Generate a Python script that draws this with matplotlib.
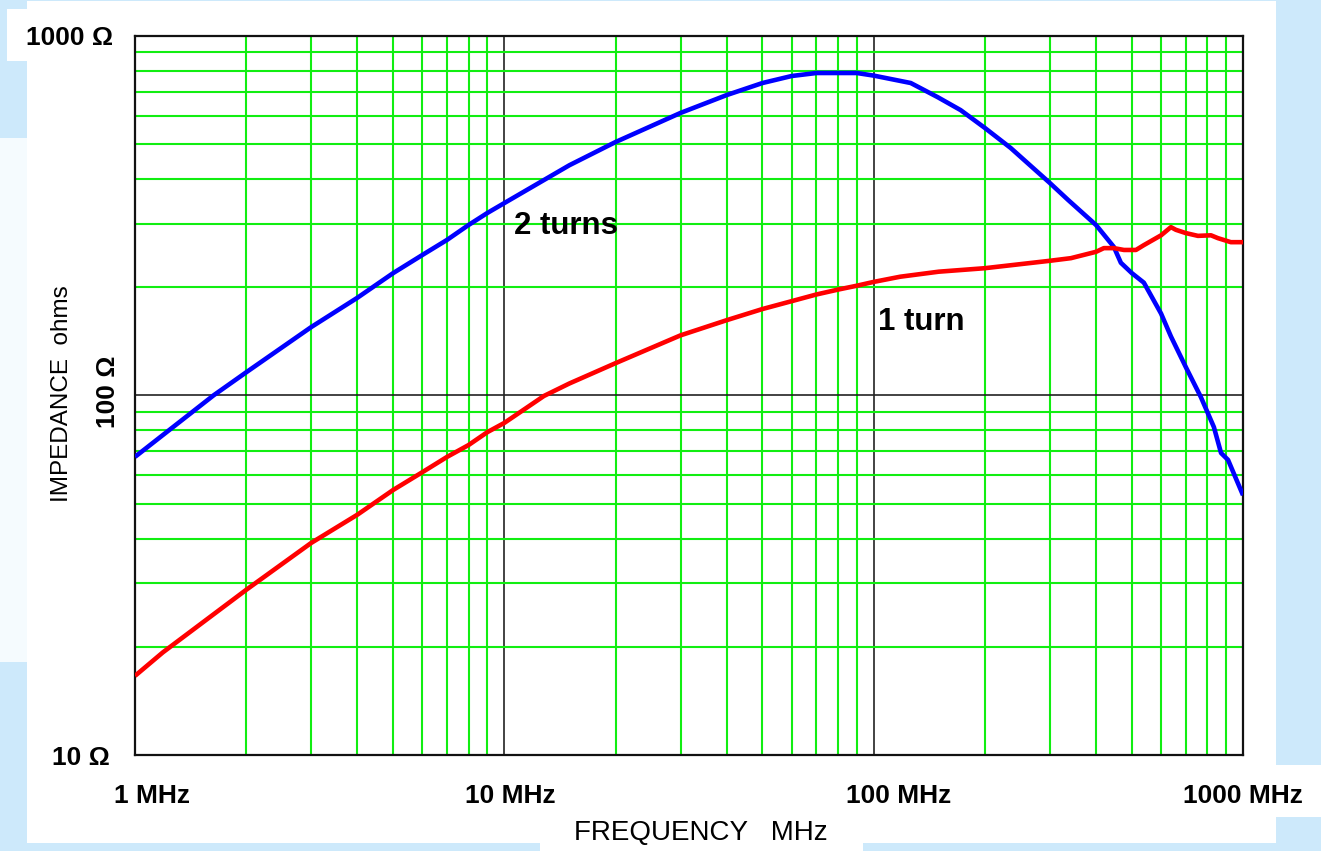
import numpy as np
import matplotlib
matplotlib.use("Agg")
import matplotlib.pyplot as plt
from matplotlib.patches import Rectangle
from matplotlib.ticker import LogLocator, NullFormatter

plt.rcParams['font.family'] = ['Liberation Sans', 'DejaVu Sans']

# impedance curves (MHz, ohms)
freq_2turns = [1, 1.63, 2, 3, 4, 5, 6, 7, 8, 9, 10, 15, 20, 30, 40, 50, 60, 70,
               80, 90, 100, 126, 149, 172, 200, 235, 300, 336, 400, 447, 467, 500, 539, 600,
               638, 700, 769, 834, 872, 911, 1000]
z_2turns = [67.5, 100, 116, 155, 187, 219, 246, 271, 298, 322, 343, 437, 507, 611,
            685, 740, 774, 789, 789, 789, 776, 740, 676, 622, 555, 488, 390, 350, 298, 259,
            234, 219, 206, 169, 146, 120, 99, 81.7, 69.2, 66.2, 52.8]

freq_1turn = [1, 1.19, 2, 3, 4, 5, 6, 7, 8, 9, 10, 12.8, 15, 20, 30, 40, 50, 60, 70, 80, 90,
              100, 118, 150, 200, 300, 342, 400, 420, 447, 476, 513, 539, 600, 638, 658, 700,
              755, 819, 855, 927, 1000]
z_1turn = [16.6, 19.3, 28.8, 38.9, 46.6, 54.6, 61.2, 67.5, 72.8, 79.1, 83.9, 99.7, 108, 123,
           147, 162, 174, 183, 191, 197, 202, 207, 214, 221, 226, 237, 241, 251, 257, 257,
           254, 254, 262, 279, 294, 289, 283, 278, 279, 274, 267, 267]

x_ticks = [1, 10, 100, 1000]
x_tick_labels = ['1 MHz', '10 MHz', '100 MHz', '1000 MHz']

W, H = 1321, 851
fig = plt.figure(figsize=(W / 100, H / 100), dpi=100, facecolor='#cde9fb')


def bg_rect(x0, y0, x1, y1, color):
    fig.add_artist(Rectangle((x0 / W, 1 - y1 / H), (x1 - x0) / W, (y1 - y0) / H,
                             transform=fig.transFigure, facecolor=color,
                             edgecolor='none', zorder=-10))


bg_rect(27, 1, 1276, 843, 'white')
bg_rect(0, 138, 27, 662, '#f5fbfe')
bg_rect(7, 9, 27, 61, 'white')
bg_rect(1276, 765, 1321, 817, 'white')
bg_rect(540, 843, 863, 851, 'white')

ax = fig.add_axes([135 / W, 1 - 755 / H, 1108 / W, 719 / H])
ax.set_facecolor('white')
ax.set_xscale('log')
ax.set_yscale('log')
ax.set_xlim(1, 1000)
ax.set_ylim(10, 1000)

ax.xaxis.set_major_locator(LogLocator(base=10, numticks=10))
ax.yaxis.set_major_locator(LogLocator(base=10, numticks=10))
ax.xaxis.set_minor_locator(LogLocator(base=10, subs=np.arange(2, 10), numticks=20))
ax.yaxis.set_minor_locator(LogLocator(base=10, subs=np.arange(2, 10), numticks=20))
ax.xaxis.set_major_formatter(NullFormatter())
ax.yaxis.set_major_formatter(NullFormatter())
ax.xaxis.set_minor_formatter(NullFormatter())
ax.yaxis.set_minor_formatter(NullFormatter())
ax.tick_params(which='both', length=0)
ax.grid(which='minor', color='#11ee11', lw=1.5)
ax.grid(which='major', color='#222222', lw=1.2)
ax.set_axisbelow(True)
for s in ax.spines.values():
    s.set_color('#111111')
    s.set_linewidth(1.6)

ax.plot(freq_2turns, z_2turns, color='#0000ff', lw=3.3, solid_capstyle='butt', zorder=3)
ax.plot(freq_1turn, z_1turn, color='#ff0000', lw=3.3, solid_capstyle='butt', zorder=3)

ax.text(10.6, 281, '2 turns', fontsize=22.5, fontweight='bold', va='baseline', ha='left')
ax.text(103, 152, '1 turn', fontsize=22.5, fontweight='bold', va='baseline', ha='left')

# tick labels placed like the original
xt = ax.get_xaxis_transform()
for x, lab, dx in zip(x_ticks, x_tick_labels, [1.11, 1.04, 1.17, 1.0]):
    ax.text(x * dx, -0.067, lab, transform=xt, fontsize=19, fontweight='bold',
            ha='center', va='baseline')

ax.text(-0.0199, 0.9875, '1000 Ω', transform=ax.transAxes, fontsize=19,
        fontweight='bold', ha='right', va='baseline')
ax.text(-0.0244, 0.505, '100 Ω', transform=ax.transAxes, fontsize=19,
        fontweight='bold', ha='center', va='center', rotation=90)
ax.text(-0.0226, -0.0139, '10 Ω', transform=ax.transAxes, fontsize=19,
        fontweight='bold', ha='right', va='baseline')

ax.text(0.511, -0.118, 'FREQUENCY   MHz', transform=ax.transAxes, fontsize=20,
        ha='center', va='baseline')
ax.text(-0.0659, 0.502, 'IMPEDANCE  ohms', transform=ax.transAxes, fontsize=17.5,
        ha='center', va='center', rotation=90)

fig.savefig('out.png', dpi=100, facecolor=fig.get_facecolor())
